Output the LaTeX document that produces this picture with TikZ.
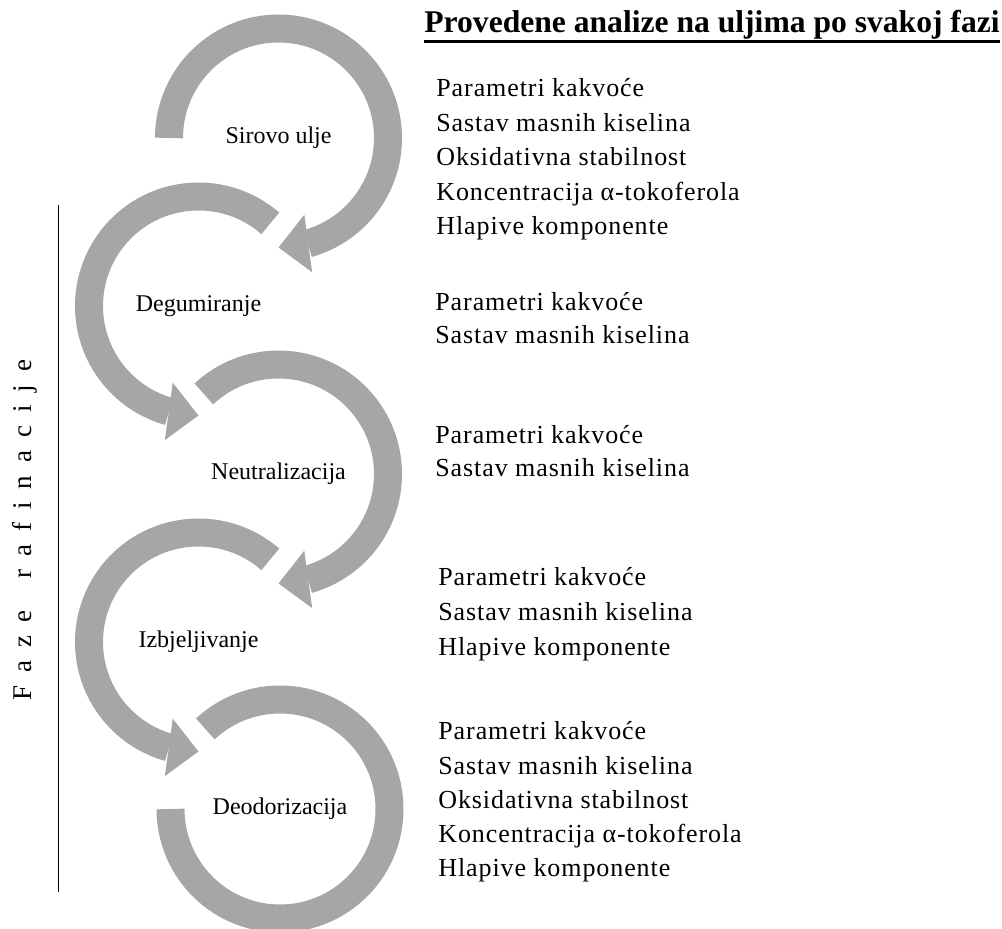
\documentclass[tikz,border=0pt]{standalone}
\usepackage{fontspec}
\setmainfont{Liberation Serif}
\newfontfamily\spacedfont[LetterSpace=3.5]{Liberation Serif}
\newfontfamily\sidefont[LetterSpace=48]{Liberation Serif}
\usetikzlibrary{arrows.meta,bending}
\definecolor{ringgray}{RGB}{166,166,166}
\newcommand\ringrad{54.75pt}

\begin{document}
\begin{tikzpicture}[x=0.5pt,y=-0.5pt,
  every node/.style={inner sep=0pt},
  phase/.style={font=\fontsize{12}{14}\selectfont},
  analysis/.style={anchor=base west,font=\spacedfont\fontsize{13}{15}\selectfont},
  ring/.style={draw=ringgray,line width=14pt},
  ringarrow/.style={ring,-{Triangle[width=29pt,length=15pt,line width=0pt,flex]}}]
\useasboundingbox (0,0) rectangle (1002,929);

% phases
\node[phase] (s1) at (278.5,138) {Sirovo ulje};
\node[phase] (s2) at (198.5,306) {Degumiranje};
\node[phase] (s3) at (278.5,474) {Neutralizacija};
\node[phase] (s4) at (198.5,642) {Izbjeljivanje};
\node[phase] (s5) at (280,809) {Deodorizacija};

\foreach \c/\a/\b in {s1/180/-90,s2/49/270,s3/133/-90,s4/49/270}
  \draw[ringarrow] ([shift={(\a:\ringrad)}]\c.center) arc[start angle=\a,end angle=\b,radius=\ringrad];
\draw[ring] ([shift={(133:\ringrad)}]s5.center) arc[start angle=133,end angle=-180,radius=\ringrad];

% side label
\coordinate (ltop) at (58.5,205);
\coordinate (lbot) at (58.5,892);
\draw[line width=0.75pt] (ltop) -- (lbot);
\node[rotate=90,font=\sidefont\fontsize{13.5}{15}\selectfont] (side) at (25,530) {Faze\hspace{16pt}rafinacije};

% analyses
\node[anchor=base west,font=\bfseries\fontsize{15.8}{18}\selectfont] (title) at (424,33) {Provedene analize na uljima po svakoj fazi};
\draw[line width=1.2pt] ([yshift=-0.6pt]title.south west) -- ([yshift=-0.6pt]title.south east);
\foreach \x/\y/\t [count=\i] in {436/97/Parametri kakvoće,436/131.5/Sastav masnih kiselina,436/166/Oksidativna stabilnost,436/200.5/Koncentracija α-tokoferola,436/235/Hlapive komponente,
    435/311/Parametri kakvoće,435/344/Sastav masnih kiselina,
    435/444/Parametri kakvoće,435/477/Sastav masnih kiselina,
    438/586/Parametri kakvoće,438/621/Sastav masnih kiselina,438/656/Hlapive komponente,
    438/740/Parametri kakvoće,438/775/Sastav masnih kiselina,438/809/Oksidativna stabilnost,438/843/Koncentracija α-tokoferola,438/877/Hlapive komponente}
  \node[analysis] (a\i) at (\x,\y) {\t};

\end{tikzpicture}
\end{document}
